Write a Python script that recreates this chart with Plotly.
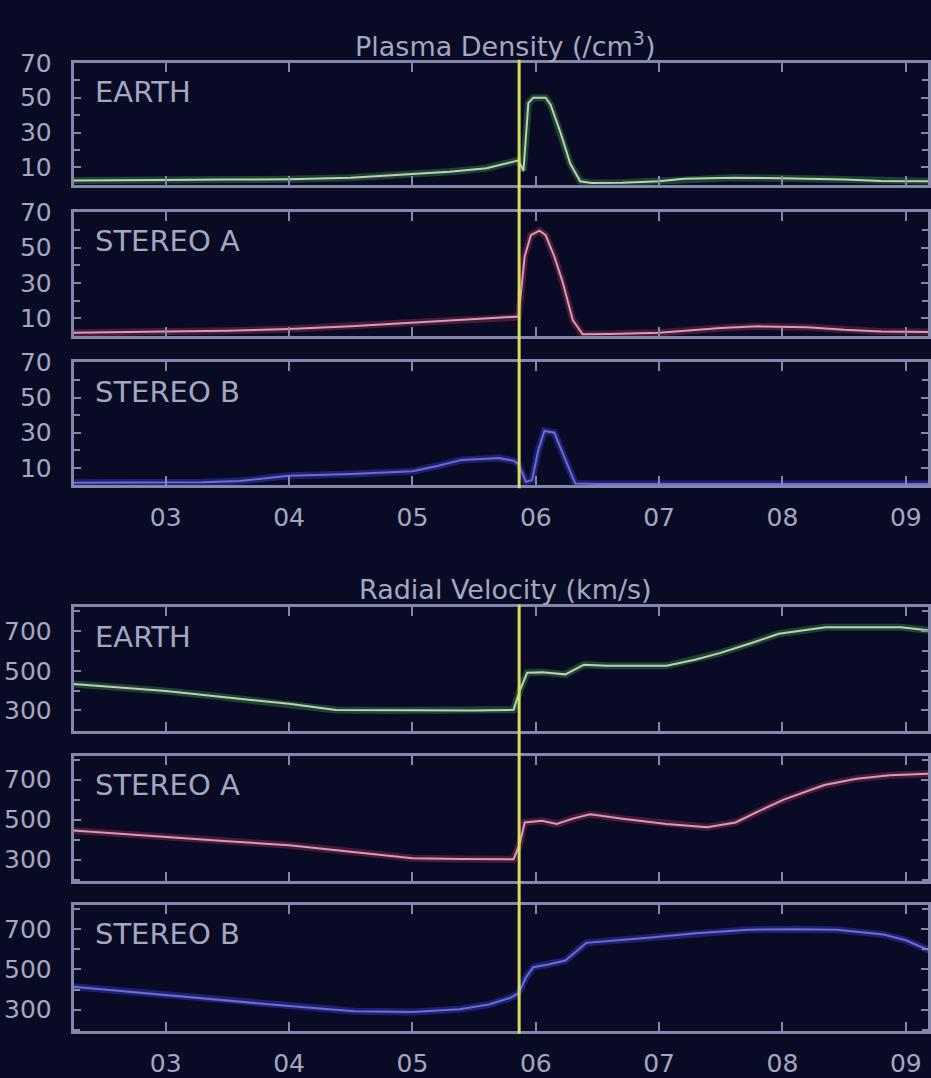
import plotly.graph_objects as go

# ---------------- data (day of month) ----------------
earth_den_t = [2.25, 2.6, 3.0, 3.5, 4.0, 4.5, 5.0, 5.3, 5.6, 5.82, 5.86, 5.9, 5.94, 5.98, 6.08, 6.12, 6.2, 6.28, 6.36, 6.45, 6.7, 7.0, 7.2, 7.6, 8.0, 8.5, 8.8, 9.2]
earth_den_v = [2.5, 2.5, 2.8, 3.0, 3.2, 4.0, 6.0, 7.5, 9.5, 13.5, 14.0, 8.0, 47.0, 50.0, 50.0, 46.0, 30.0, 12.0, 2.0, 1.0, 1.2, 2.0, 3.5, 4.0, 3.8, 3.0, 2.2, 2.0]

sta_den_t = [2.25, 2.6, 3.0, 3.5, 4.0, 4.5, 5.0, 5.4, 5.82, 5.86, 5.91, 5.96, 6.03, 6.08, 6.15, 6.22, 6.3, 6.38, 6.6, 7.0, 7.5, 7.8, 8.2, 8.5, 8.8, 9.2]
sta_den_v = [1.8, 2.0, 2.5, 3.0, 4.0, 5.5, 7.5, 9.0, 10.5, 11.0, 45.0, 57.0, 59.5, 57.0, 45.0, 30.0, 9.0, 1.0, 1.2, 1.8, 4.5, 5.5, 5.0, 3.5, 2.5, 2.2]

stb_den_t = [2.25, 2.8, 3.3, 3.6, 4.0, 4.5, 5.0, 5.2, 5.4, 5.7, 5.82, 5.86, 5.92, 5.97, 6.02, 6.07, 6.15, 6.22, 6.32, 6.5, 7.0, 8.0, 9.2]
stb_den_v = [1.5, 1.5, 1.8, 2.5, 5.5, 6.5, 8.0, 11.0, 14.5, 15.5, 14.0, 12.0, 2.0, 3.0, 20.0, 31.0, 30.0, 18.0, 1.0, 0.8, 0.8, 0.8, 0.8]

earth_vel_t = [2.25, 2.6, 3.0, 3.5, 4.0, 4.38, 4.8, 5.2, 5.5, 5.82, 5.87, 5.93, 6.05, 6.24, 6.39, 6.58, 7.06, 7.29, 7.49, 7.75, 7.97, 8.35, 8.96, 9.2]
earth_vel_v = [433, 418, 398, 365, 334, 302, 300, 300, 300, 303, 400, 490, 492, 482, 531, 525, 525, 556, 589, 640, 687, 720, 720, 703]

sta_vel_t = [2.25, 2.6, 3.0, 3.5, 4.0, 4.5, 5.0, 5.4, 5.82, 5.87, 5.91, 6.05, 6.17, 6.3, 6.44, 6.72, 7.06, 7.39, 7.62, 7.8, 8.01, 8.34, 8.6, 8.87, 9.2]
sta_vel_v = [445, 430, 410, 392, 372, 340, 307, 303, 302, 380, 486, 494, 478, 505, 527, 503, 478, 462, 486, 540, 600, 673, 705, 722, 730]

stb_vel_t = [2.25, 2.6, 3.1, 3.5, 4.0, 4.53, 5.0, 5.38, 5.62, 5.79, 5.86, 5.92, 5.98, 6.1, 6.24, 6.33, 6.41, 6.91, 7.3, 7.72, 8.1, 8.44, 8.82, 9.0, 9.2]
stb_vel_v = [414, 395, 366, 345, 318, 293, 289, 302, 326, 358, 382, 460, 511, 525, 544, 590, 632, 657, 680, 697, 700, 697, 673, 645, 592]

shock_time = 5.865

day_ticks = [3, 4, 5, 6, 7, 8, 9]
day_labels = ["03", "04", "05", "06", "07", "08", "09"]
den_ticks = [10, 30, 50, 70]
vel_ticks = [300, 500, 700]

panel_names = ["EARTH", "STEREO A", "STEREO B", "EARTH", "STEREO A", "STEREO B"]
titles = ["Plasma Density (/cm<sup>3</sup>)", "Radial Velocity (km/s)"]

# ---------------- style ----------------
W, H = 931, 1078
BG = "#090b25"
FRAME = "#8587aa"
TXT = "#a4a7c2"
FONT = "DejaVu Sans, Verdana, sans-serif"
core_colors = ["#b7d3b2", "#d79cb0", "#6b6bd6"]
glow_colors = ["rgba(70,150,70,0.40)", "rgba(170,50,90,0.40)", "rgba(60,60,200,0.45)"]

panels_px = [(50, 175), (203, 330), (357, 483), (608, 735), (760, 888), (913, 1042)]
x_left = 74 / W
x_range = [2.254, 9.18]

series = [
    (earth_den_t, earth_den_v), (sta_den_t, sta_den_v), (stb_den_t, stb_den_v),
    (earth_vel_t, earth_vel_v), (sta_vel_t, sta_vel_v), (stb_vel_t, stb_vel_v),
]

fig = go.Figure()
layout = dict(
    width=W, height=H, margin=dict(l=0, r=0, t=0, b=0),
    paper_bgcolor=BG, plot_bgcolor=BG, showlegend=False,
    font=dict(family=FONT, color=TXT),
)

annotations = []
shapes = []
for i, ((top, bot), (tt, vv)) in enumerate(zip(panels_px, series)):
    n = i + 1
    xa = "x" if n == 1 else f"x{n}"
    ya = "y" if n == 1 else f"y{n}"
    ci = i % 3
    fig.add_trace(go.Scatter(x=tt, y=vv, mode="lines", xaxis=xa, yaxis=ya,
                             line=dict(color=glow_colors[ci], width=7), hoverinfo="skip"))
    fig.add_trace(go.Scatter(x=tt, y=vv, mode="lines", xaxis=xa, yaxis=ya,
                             line=dict(color=core_colors[ci], width=2)))
    is_den = i < 3
    show_x_labels = i in (2, 5)
    layout["xaxis" if n == 1 else f"xaxis{n}"] = dict(
        domain=[x_left, 1.0], anchor=ya, range=x_range,
        showline=True, linecolor=FRAME, linewidth=3, mirror="ticks",
        ticks="inside", ticklen=9, tickwidth=2, tickcolor=FRAME,
        tickvals=day_ticks, ticktext=day_labels,
        showticklabels=show_x_labels, ticklabelstandoff=8,
        tickfont=dict(size=25, color=TXT, family=FONT),
        showgrid=False, zeroline=False,
    )
    layout["yaxis" if n == 1 else f"yaxis{n}"] = dict(
        domain=[1 - bot / H, 1 - top / H], anchor=xa,
        range=[0, 70] if is_den else [195, 820],
        showline=True, linecolor=FRAME, linewidth=3, mirror="ticks",
        ticks="inside", ticklen=7, tickwidth=2, tickcolor=FRAME,
        tickvals=den_ticks if is_den else vel_ticks,
        minor=dict(ticks="inside", ticklen=6, tickwidth=2, tickcolor=FRAME,
                   dtick=10 if is_den else 100, showgrid=False),
        ticklabelstandoff=14,
        tickfont=dict(size=25, color=TXT, family=FONT),
        showgrid=False, zeroline=False,
    )
    annotations.append(dict(
        text=panel_names[i], xref="paper", yref="paper",
        x=93 / W, y=1 - (top + 30) / H, xanchor="left", yanchor="middle",
        showarrow=False, font=dict(size=29, color=TXT, family=FONT),
    ))

# titles
for ttl, ypx in zip(titles, [31, 590]):
    annotations.append(dict(
        text=ttl, xref="paper", yref="paper", x=507 / W, y=1 - ypx / H,
        xanchor="center", yanchor="middle", showarrow=False,
        font=dict(size=27, color=TXT, family=FONT),
    ))

# shock arrival vertical line across each group of panels
for (top_px, bot_px) in [(47, 486), (605, 1045)]:
    shapes.append(dict(type="line", xref="x", yref="paper",
                       x0=shock_time, x1=shock_time,
                       y0=1 - bot_px / H, y1=1 - top_px / H,
                       line=dict(color="#d6de5c", width=3), layer="above"))

layout["annotations"] = annotations
layout["shapes"] = shapes
fig.update_layout(**layout)
fig.write_html(
    "out.html",
    config={"displayModeBar": False},
    post_script="document.body.style.margin='0';document.body.style.background='%s';" % BG,
)
